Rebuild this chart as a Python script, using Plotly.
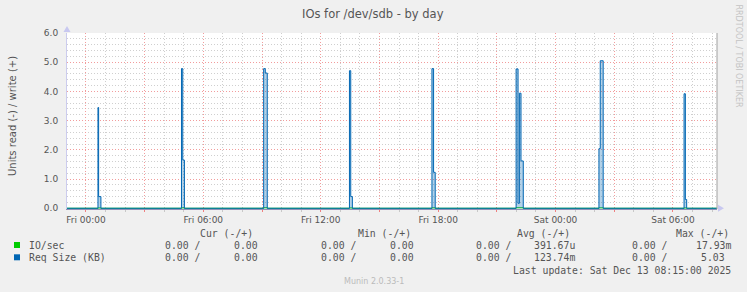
import plotly.graph_objects as go

# ---------------- data ----------------
x_start = "2025-12-11 23:02"
x_end = "2025-12-13 08:15"

req_times = [
    "2025-12-11 23:02",
    "2025-12-12 00:37", "2025-12-12 00:39", "2025-12-12 00:46",
    "2025-12-12 04:53", "2025-12-12 04:57", "2025-12-12 05:02",
    "2025-12-12 09:05", "2025-12-12 09:10", "2025-12-12 09:16",
    "2025-12-12 13:28", "2025-12-12 13:32", "2025-12-12 13:37",
    "2025-12-12 17:41", "2025-12-12 17:46", "2025-12-12 17:51",
    "2025-12-12 21:59", "2025-12-12 22:05", "2025-12-12 22:09", "2025-12-12 22:14", "2025-12-12 22:21",
    "2025-12-13 02:13", "2025-12-13 02:17", "2025-12-13 02:26",
    "2025-12-13 06:34", "2025-12-13 06:38", "2025-12-13 06:42",
    "2025-12-13 08:15",
]
req_values = [
    0,
    3.45, 0.40, 0,
    4.78, 1.65, 0,
    4.78, 4.63, 0,
    4.71, 0.40, 0,
    4.78, 1.23, 0,
    4.77, 0.17, 3.94, 1.62, 0,
    2.04, 5.05, 0,
    3.92, 0.30, 0,
    0,
]

io_times = [
    "2025-12-11 23:02",
    "2025-12-12 00:37", "2025-12-12 00:46",
    "2025-12-12 04:53", "2025-12-12 05:02",
    "2025-12-12 09:05", "2025-12-12 09:16",
    "2025-12-12 13:28", "2025-12-12 13:37",
    "2025-12-12 17:41", "2025-12-12 17:51",
    "2025-12-12 21:59", "2025-12-12 22:21",
    "2025-12-13 02:13", "2025-12-13 02:26",
    "2025-12-13 06:34", "2025-12-13 06:42",
    "2025-12-13 08:15",
]
io_values = [0, 0.0107, 0, 0.0143, 0, 0.0179, 0, 0.0107, 0, 0.0143, 0,
             0.0179, 0, 0.0143, 0, 0.0107, 0, 0]

tick_vals = ["2025-12-12 00:00", "2025-12-12 03:00", "2025-12-12 06:00", "2025-12-12 09:00",
             "2025-12-12 12:00", "2025-12-12 15:00", "2025-12-12 18:00", "2025-12-12 21:00",
             "2025-12-13 00:00", "2025-12-13 03:00", "2025-12-13 06:00"]
tick_text = ["Fri 00:00", "", "Fri 06:00", "", "Fri 12:00", "", "Fri 18:00", "",
             "Sat 00:00", "", "Sat 06:00"]

title = "IOs for /dev/sdb - by day"
y_title = "Units read (-) / write (+)"
series_names = ["IO/sec", "Req Size (KB)"]
series_colors = ["#00CC00", "#0066B3"]
headers = ["Cur (-/+)", "Min (-/+)", "Avg (-/+)", "Max (-/+)"]
cur_neg = ["0.00", "0.00"]
cur_pos = ["0.00", "0.00"]
min_neg = ["0.00", "0.00"]
min_pos = ["0.00", "0.00"]
avg_neg = ["0.00", "0.00"]
avg_pos = ["391.67u", "123.74m"]
max_neg = ["0.00", "0.00"]
max_pos = ["17.93m", "5.03"]
last_update = "Last update: Sat Dec 13 08:15:00 2025"
munin_ver = "Munin 2.0.33-1"
rrd_credit = "RRDTOOL / TOBI OETIKER"

# ---------------- geometry helpers ----------------
W, H = 747, 292
ML, MR, MT, MB = 67, 30, 33, 83
PW = W - ML - MR
PH = H - MT - MB


def px(x):
    return (x - ML) / PW


def py(y):
    return (H - MB - y) / PH


TXT = "#555555"
MAJ = "#F29C9C"
MIN = "#CFCFCF"
DASH = "1px,2px"
fig = go.Figure()

fig.add_trace(go.Scatter(x=io_times, y=io_values, mode="lines", line=dict(color=series_colors[0], width=1, shape="hv"),
                         hoverinfo="skip", showlegend=False))
fig.add_trace(go.Scatter(x=req_times, y=req_values, mode="lines",
                         line=dict(color=series_colors[1], width=1, shape="hv"),
                         fill="tozeroy", fillcolor="rgba(0,102,179,0.3)",
                         hoverinfo="skip", showlegend=False))

fig.update_layout(
    width=W, height=H,
    margin=dict(l=ML, r=MR, t=MT, b=MB, pad=0),
    paper_bgcolor="#F0F0F0",
    plot_bgcolor="#FFFFFF",
    font=dict(family="DejaVu Sans", size=9, color=TXT),
    showlegend=False,
)

fig.update_xaxes(
    type="date", range=[x_start, x_end],
    tickmode="array", tickvals=tick_vals, ticktext=tick_text,
    showgrid=True, gridcolor=MAJ, griddash=DASH, gridwidth=1,
    ticks="outside", ticklen=2, tickcolor="#F08080",
    tickfont=dict(family="DejaVu Sans", size=9, color=TXT),
    minor=dict(dtick=3600000, tick0="2025-12-12 00:00", showgrid=True, gridcolor=MIN,
               griddash=DASH, ticks="outside", ticklen=2, tickcolor="#C8C8C8"),
    showline=True, linecolor="#9090B8", linewidth=1,
    zeroline=False, fixedrange=True,
)
fig.update_yaxes(
    range=[-0.025, 6.0], dtick=1.0, tick0=0, tickformat=".1f",
    showgrid=True, gridcolor=MAJ, griddash=DASH, gridwidth=1,
    ticks="", ticklabelstandoff=6,
    tickfont=dict(family="DejaVu Sans", size=9, color=TXT),
    minor=dict(dtick=0.2, showgrid=True, gridcolor=MIN, griddash=DASH),
    showline=True, linecolor="#CCCCEE", linewidth=1,
    zeroline=False, fixedrange=True,
)

shapes = []
# right frame line
shapes.append(dict(type="line", xref="paper", yref="paper", x0=1, x1=1, y0=0, y1=1,
                   line=dict(color="#A0A0A0", width=1)))
# axis arrows
shapes.append(dict(type="path", xref="paper", yref="paper",
                   path=f"M {px(63.5)} {py(32)} L {px(70.5)} {py(32)} L {px(67)} {py(26)} Z",
                   fillcolor="#C8C8F0", line=dict(width=0)))
shapes.append(dict(type="path", xref="paper", yref="paper",
                   path=f"M {px(718)} {py(204.8)} L {px(718)} {py(211.8)} L {px(724)} {py(208.3)} Z",
                   fillcolor="#C8C8F0", line=dict(width=0)))
# legend colour squares
for i, c in enumerate(series_colors):
    yc = 245 + 12.3 * i
    shapes.append(dict(type="rect", xref="paper", yref="paper",
                       x0=px(14), x1=px(20), y0=py(yc + 3), y1=py(yc - 3),
                       fillcolor=c, line=dict(width=0)))
fig.update_layout(shapes=shapes)

ann = []


def text(x, y, s, xa="left", size=9.8, fam="DejaVu Sans Mono", color=TXT, angle=0, ya="middle"):
    ann.append(dict(x=px(x), y=py(y), xref="paper", yref="paper", text=s, showarrow=False,
                    xanchor=xa, yanchor=ya, textangle=angle,
                    font=dict(family=fam, size=size, color=color)))


text(373, 14, title, xa="center", size=11.5, fam="DejaVu Sans", color="#555555")
text(12, 116, y_title, xa="center", size=10, fam="DejaVu Sans", angle=-90)
text(738.5, 56, rrd_credit, xa="center", size=8, fam="DejaVu Sans", color="#C4C4C4", angle=90)
text(373.5, 281, munin_ver, xa="center", size=8, fam="DejaVu Sans", color="#BBBBBB")

header_x = [197.7, 356, 515, 674]
for hx, h in zip(header_x, headers):
    text(hx, 233.3, h)

neg_left = [162.7, 318.7, 473.7, 629.7]
pos_slot_right = [265.9, 421.9, 577.3, 733.3]
CHW = 5.9
cols = [(cur_neg, cur_pos), (min_neg, min_pos), (avg_neg, avg_pos), (max_neg, max_pos)]
for r, name in enumerate(series_names):
    yc = 245 + 12.3 * r
    text(26.7, yc, name)
    for ci, (neg, pos) in enumerate(cols):
        text(neg_left[ci], yc, neg[r] + " /")
        v = pos[r]
        right = pos_slot_right[ci] if v[-1].isalpha() else pos_slot_right[ci] - CHW
        text(right, yc, v, xa="right")

text(733.3, 270, last_update, xa="right")

fig.update_layout(annotations=ann)
fig.write_html("out.html")
